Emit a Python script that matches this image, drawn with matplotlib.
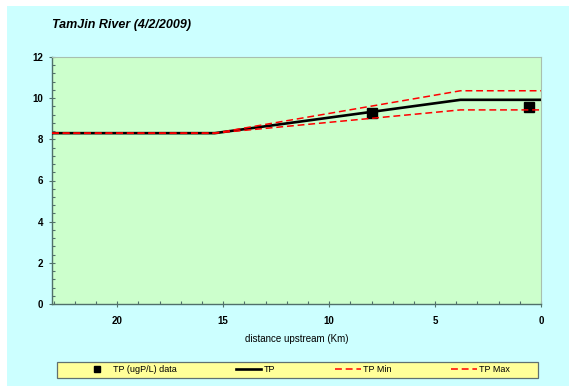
import matplotlib
matplotlib.use("Agg")
import matplotlib.pyplot as plt
from matplotlib.patches import Rectangle
from matplotlib.ticker import MultipleLocator

# Observed total phosphorus samples
obs_km = [8.0, 0.55]
obs_tp = [9.27, 9.56]

# Model profile along the river (distance upstream, km)
model_km = [23.08, 15.4, 3.8, 0.0]
model_tp = [8.30, 8.30, 9.92, 9.92]
model_min = [8.30, 8.30, 9.43, 9.43]
model_max = [8.30, 8.30, 10.36, 10.36]

title = "TamJin River (4/2/2009)"
xlabel = "distance upstream (Km)"
labels = ["TP (ugP/L) data", "TP", "TP Min", "TP Max"]

W, H = 570, 387
plt.rcParams["font.family"] = ["Liberation Sans", "DejaVu Sans"]
fig = plt.figure(figsize=(W / 100, H / 100), dpi=100, facecolor="white")

# chart-area background
fig.patches.append(Rectangle((7 / W, 1 - 386 / H), (569 - 7) / W, (386 - 6) / H,
                             transform=fig.transFigure, facecolor="#CCFFFF",
                             edgecolor="none", zorder=-10))

ax = fig.add_axes([52 / W, 1 - 304 / H, (541 - 52) / W, (304 - 57) / H])
ax.set_facecolor("#CCFFCC")

ax.plot(obs_km, obs_tp, linestyle="none", marker="s", markersize=6.5,
        color="black", label=labels[0], zorder=3)
ax.plot(model_km, model_tp, color="black", linewidth=1.9, label=labels[1], zorder=4)
ax.plot(model_km, model_min, color="#FF0000", linewidth=1.1,
        dashes=(4.5, 2.5), label=labels[2], zorder=5)
ax.plot(model_km, model_max, color="#FF0000", linewidth=1.1,
        dashes=(4.5, 2.5), label=labels[3], zorder=5)

ax.set_xlim(23.08, 0)
ax.set_ylim(0, 12)
ax.xaxis.set_major_locator(MultipleLocator(5))
ax.xaxis.set_minor_locator(MultipleLocator(1))
ax.yaxis.set_major_locator(MultipleLocator(2))
ax.yaxis.set_minor_locator(MultipleLocator(0.4))

axis_col = "#50706A"
for side in ["left", "bottom"]:
    ax.spines[side].set_color(axis_col)
    ax.spines[side].set_linewidth(1.0)
for side in ["top", "right"]:
    ax.spines[side].set_color("#A8C0B0")
    ax.spines[side].set_linewidth(0.8)

ax.tick_params(which="major", direction="inout", length=5, width=0.8,
               color=axis_col, labelsize=7, labelcolor="black")
ax.tick_params(axis="y", which="major", pad=4)
ax.tick_params(axis="x", which="major", pad=6)
ax.tick_params(which="minor", direction="in", length=2, width=0.8, color=axis_col)
for lab in ax.get_xticklabels() + ax.get_yticklabels():
    lab.set_fontweight("bold")

ax.set_xlabel(xlabel, fontsize=7, labelpad=6)

fig.text(52 / W, 1 - 25 / H, title, fontsize=9, fontstyle="italic",
         fontweight="bold", va="center", ha="left")

# legend box
box_x0, box_x1, box_y0, box_y1 = 57, 538, 362, 378
fig.patches.append(Rectangle((box_x0 / W, 1 - box_y1 / H),
                             (box_x1 - box_x0) / W, (box_y1 - box_y0) / H,
                             transform=fig.transFigure, facecolor="#FFFF99",
                             edgecolor="#607070", linewidth=0.9, zorder=1))
leg = fig.legend(loc="center", ncol=4,
                 bbox_to_anchor=((box_x0 + box_x1) / 2 / W,
                                 1 - (box_y0 + box_y1) / 2 / H),
                 borderaxespad=0, fontsize=6.5, frameon=False, markerscale=0.65,
                 handlelength=2.8, handletextpad=0.3, borderpad=0.0,
                 columnspacing=6.6)
leg.set_zorder(2)

fig.savefig("out.png", dpi=100, facecolor="white")
